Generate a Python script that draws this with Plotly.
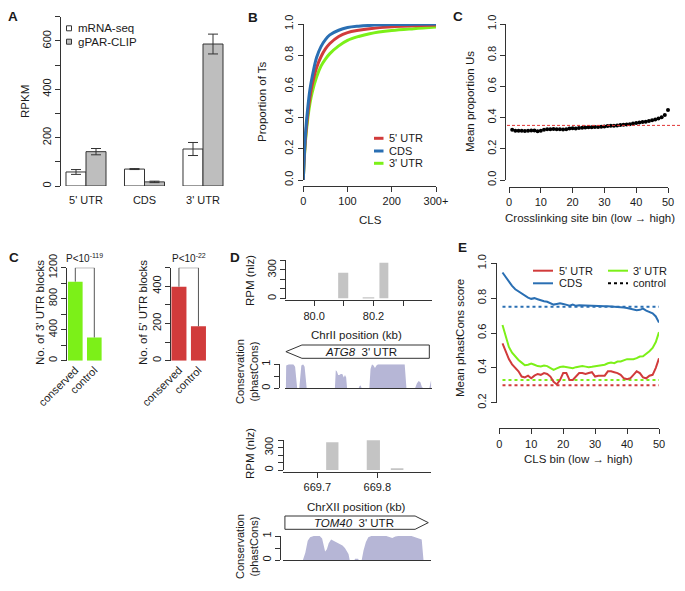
import plotly.graph_objects as go

W, H = 685, 591
FONT = "Liberation Sans, Arial, Helvetica, sans-serif"
AX = "#333333"
TXT = "#1a1a1a"
RED = "#D13B3B"
BLUE = "#2A6FB3"
GREEN = "#7CF018"
GRAYBAR = "#BEBEBE"
RPMBAR = "#C4C4C4"
LAV = "#B6B6D6"

# ---------------- data ----------------
# A
regions = ["5' UTR", "CDS", "3' UTR"]
mrna_rpkm = [58, 70, 153]
mrna_err = [10, 2, 27]
gpar_rpkm = [142, 17, 587]
gpar_err = [13, 3, 41]

# B
cls_x = [0, 2, 5, 10, 15, 20, 30, 40, 50, 60, 80, 100, 125, 150, 200, 250, 300]
cdf_cds = [0, 0.14, 0.30, 0.46, 0.58, 0.66, 0.785, 0.855, 0.90, 0.93, 0.96, 0.977, 0.986, 0.991, 0.996, 0.998, 1.0]
cdf_5utr = [0, 0.13, 0.27, 0.42, 0.53, 0.61, 0.72, 0.79, 0.84, 0.875, 0.92, 0.945, 0.96, 0.97, 0.982, 0.988, 0.993]
cdf_3utr = [0, 0.12, 0.25, 0.39, 0.49, 0.56, 0.66, 0.73, 0.775, 0.81, 0.86, 0.895, 0.92, 0.938, 0.958, 0.97, 0.98]
cls_ticks = [0, 100, 200, 300]
cls_ticktext = ["0", "100", "200", "300+"]

# C (top)
bins = list(range(1, 51))
prop_us = [0.322, 0.316, 0.315, 0.315, 0.314, 0.316, 0.318, 0.318, 0.312, 0.316,
           0.322, 0.325, 0.326, 0.327, 0.326, 0.326, 0.324, 0.326, 0.330, 0.331,
           0.330, 0.333, 0.335, 0.336, 0.338, 0.338, 0.340, 0.340, 0.341, 0.343,
           0.346, 0.347, 0.347, 0.350, 0.352, 0.354, 0.356, 0.358, 0.362, 0.366,
           0.368, 0.371, 0.374, 0.378, 0.383, 0.388, 0.394, 0.403, 0.417, 0.448]
us_reference = 0.35

# C (bottom)
block_groups = ["conserved", "control"]
utr3_blocks = [1020, 300]
utr5_blocks = [398, 185]
utr3_p = "P<10<sup>-119</sup>"
utr5_p = "P<10<sup>-22</sup>"

# D
atg8_pos = [80.098, 80.183, 80.235]
atg8_width = [0.034, 0.039, 0.030]
atg8_rpm = [270, 14, 375]
atg8_utr = (79.905, 80.388)
atg8_cons_pos = [79.905, 79.906, 79.915, 79.930, 79.936, 79.940, 79.943, 79.950, 79.953, 79.957,
                 79.963, 79.968, 79.972, 79.975, 80.070, 80.073, 80.077, 80.081, 80.085, 80.090,
                 80.095, 80.100, 80.104, 80.108, 80.111, 80.150, 80.153, 80.157, 80.160, 80.186,
                 80.190, 80.195, 80.200, 80.205, 80.210, 80.215, 80.305, 80.308, 80.311, 80.340,
                 80.346, 80.352, 80.358, 80.363, 80.368, 80.388, 80.392, 80.394]
atg8_cons = [0, 0.95, 1.0, 1.0, 0.9, 0.3, 0, 0, 0.6, 0.95,
             1.0, 0.9, 0.4, 0, 0, 0.75, 0.7, 0.55, 0.55, 0.6,
             0.6, 0.45, 0.55, 0.45, 0, 0, 0.1, 0.12, 0, 0,
             0.8, 1.0, 0.95, 0.85, 0.95, 1.0, 1.0, 0.3, 0, 0,
             0.2, 0.3, 0.25, 0.05, 0, 0, 0.3, 0.35]

tom40_pos = [669.725, 669.7934, 669.833]
tom40_width = [0.0205, 0.022, 0.021]
tom40_rpm = [375, 415, 25]
tom40_utr = (669.646, 669.885)
tom40_cons_pos = [669.676, 669.680, 669.684, 669.688, 669.694, 669.704, 669.708, 669.711, 669.713, 669.716,
                  669.719, 669.723, 669.727, 669.730, 669.735, 669.738, 669.742, 669.746, 669.750, 669.752,
                  669.754, 669.762, 669.763, 669.768, 669.769, 669.774, 669.777, 669.781, 669.785, 669.790,
                  669.815, 669.820, 669.825, 669.830, 669.835, 669.857, 669.863, 669.870, 669.874, 669.877]
tom40_cons = [0, 0.3, 0.8, 0.95, 1.0, 1.0, 0.9, 0.6, 0.35, 0.45,
              0.7, 0.85, 0.8, 0.75, 0.72, 0.68, 0.6, 0.5, 0.35, 0.25,
              0, 0, 0.05, 0.05, 0, 0, 0.4, 0.75, 0.95, 1.0,
              1.0, 0.95, 0.92, 0.98, 1.0, 1.0, 0.95, 0.9, 0.85, 0]

# E
phast_cds = [0.947, 0.92, 0.895, 0.87, 0.851, 0.838, 0.825, 0.815, 0.803, 0.796,
             0.80, 0.794, 0.786, 0.782, 0.779, 0.771, 0.763, 0.767, 0.771, 0.767,
             0.763, 0.757, 0.763, 0.756, 0.759, 0.758, 0.757, 0.756, 0.755, 0.753,
             0.754, 0.752, 0.753, 0.754, 0.753, 0.75, 0.749, 0.747, 0.746, 0.743,
             0.74, 0.736, 0.731, 0.733, 0.74, 0.728, 0.722, 0.713, 0.695, 0.66]
phast_3utr = [0.646, 0.58, 0.52, 0.487, 0.464, 0.445, 0.43, 0.415, 0.418, 0.425,
              0.418, 0.41, 0.408, 0.413, 0.41, 0.398, 0.388, 0.397, 0.405, 0.408,
              0.404, 0.398, 0.398, 0.404, 0.408, 0.41, 0.407, 0.404, 0.406, 0.408,
              0.413, 0.416, 0.418, 0.426, 0.43, 0.427, 0.436, 0.437, 0.442, 0.45,
              0.45, 0.45, 0.456, 0.465, 0.466, 0.48, 0.495, 0.514, 0.548, 0.605]
phast_5utr = [0.54, 0.49, 0.45, 0.42, 0.40, 0.38, 0.35, 0.345, 0.355, 0.34,
              0.355, 0.365, 0.36, 0.37, 0.365, 0.35, 0.32, 0.305, 0.33, 0.37,
              0.37, 0.33, 0.33, 0.35, 0.37, 0.37, 0.365, 0.37, 0.375, 0.35,
              0.355, 0.355, 0.355, 0.38, 0.38, 0.375, 0.37, 0.36, 0.34, 0.335,
              0.34, 0.36, 0.38, 0.37, 0.345, 0.34, 0.355, 0.36, 0.40, 0.455]
ctrl_cds = 0.75
ctrl_3utr = 0.33
ctrl_5utr = 0.30


# ---------------- helpers ----------------
def X(px):
    return px / W


def Y(py):
    return 1 - py / H


def base_axis(**kw):
    d = dict(showgrid=False, zeroline=False, showline=True, linecolor=AX, linewidth=1,
             ticks="outside", ticklen=5, tickwidth=1, tickcolor=AX,
             tickfont=dict(family=FONT, size=11, color=TXT), fixedrange=True, automargin=False)
    d.update(kw)
    return d


def minor(vals):
    return dict(tickvals=vals, ticks="outside", ticklen=5, tickwidth=1, tickcolor=AX, showgrid=False)


def xfree(left, right, rng, pos, **kw):
    return base_axis(domain=[X(left), X(right)], range=rng, anchor="free", position=Y(pos), **kw)


def yfree(bottom, top, rng, pos, **kw):
    return base_axis(domain=[Y(bottom), Y(top)], range=rng, anchor="free", position=X(pos),
                     tickangle=-90, **kw)


fig = go.Figure()

# ---------------- A ----------------
fig.add_trace(go.Bar(x=regions, y=mrna_rpkm, width=0.342, offset=-0.342,
                     marker=dict(color="white", line=dict(color=AX, width=1)),
                     error_y=dict(type="data", array=mrna_err, color=AX, thickness=1, width=5),
                     xaxis="x", yaxis="y", showlegend=False))
fig.add_trace(go.Bar(x=regions, y=gpar_rpkm, width=0.342, offset=0,
                     marker=dict(color=GRAYBAR, line=dict(color=AX, width=1)),
                     error_y=dict(type="data", array=gpar_err, color=AX, thickness=1, width=5),
                     xaxis="x", yaxis="y", showlegend=False))

# ---------------- B ----------------
for vals, col in [(cdf_3utr, GREEN), (cdf_5utr, RED), (cdf_cds, BLUE)]:
    fig.add_trace(go.Scatter(x=cls_x, y=vals, mode="lines", line=dict(color=col, width=3, shape="spline"),
                             xaxis="x2", yaxis="y2", showlegend=False, cliponaxis=False))

# ---------------- C top ----------------
fig.add_trace(go.Scatter(x=bins, y=prop_us, mode="markers", marker=dict(color="black", size=4),
                         xaxis="x3", yaxis="y3", showlegend=False, cliponaxis=False))

# ---------------- C bottom ----------------
fig.add_trace(go.Bar(x=block_groups, y=utr3_blocks, width=0.77, marker=dict(color=GREEN, line=dict(width=0)),
                     xaxis="x4", yaxis="y4", showlegend=False))
fig.add_trace(go.Scatter(x=[block_groups[0], block_groups[0], block_groups[1], block_groups[1]],
                         y=[utr3_blocks[0], 1200, 1200, utr3_blocks[1]], mode="lines",
                         line=dict(color="#555", width=1), xaxis="x4", yaxis="y4",
                         showlegend=False, cliponaxis=False))
fig.add_trace(go.Bar(x=block_groups, y=utr5_blocks, width=0.77, marker=dict(color=RED, line=dict(width=0)),
                     xaxis="x5", yaxis="y5", showlegend=False))
fig.add_trace(go.Scatter(x=[block_groups[0], block_groups[0], block_groups[1], block_groups[1]],
                         y=[utr5_blocks[0], 500, 500, utr5_blocks[1]], mode="lines",
                         line=dict(color="#555", width=1), xaxis="x5", yaxis="y5",
                         showlegend=False, cliponaxis=False))

# ---------------- D ----------------
fig.add_trace(go.Bar(x=atg8_pos, y=atg8_rpm, width=atg8_width, marker=dict(color=RPMBAR, line=dict(width=0)),
                     xaxis="x6", yaxis="y6", showlegend=False))
fig.add_trace(go.Scatter(x=atg8_cons_pos, y=atg8_cons, mode="lines", fill="tozeroy", fillcolor=LAV,
                         line=dict(width=0, color=LAV), xaxis="x7", yaxis="y7", showlegend=False))
fig.add_trace(go.Bar(x=tom40_pos, y=tom40_rpm, width=tom40_width, marker=dict(color=RPMBAR, line=dict(width=0)),
                     xaxis="x8", yaxis="y8", showlegend=False))
fig.add_trace(go.Scatter(x=tom40_cons_pos, y=tom40_cons, mode="lines", fill="tozeroy", fillcolor=LAV,
                         line=dict(width=0, color=LAV), xaxis="x9", yaxis="y9", showlegend=False))

# ---------------- E ----------------
for c, col in [(ctrl_cds, BLUE), (ctrl_3utr, GREEN), (ctrl_5utr, RED)]:
    fig.add_trace(go.Scatter(x=[bins[0], bins[-1]], y=[c, c], mode="lines",
                             line=dict(color=col, width=2, dash="dot"),
                             xaxis="x10", yaxis="y10", showlegend=False))
for vals, col in [(phast_cds, BLUE), (phast_3utr, GREEN), (phast_5utr, RED)]:
    fig.add_trace(go.Scatter(x=bins, y=vals, mode="lines", line=dict(color=col, width=2),
                             xaxis="x10", yaxis="y10", showlegend=False))

# ---------------- axes ----------------
lay = {}
# A
lay["xaxis"] = base_axis(domain=[X(56.75), X(232.25)], range=[-0.5, 2.5], anchor="y", showline=False,
                         ticks="", type="category", ticklabelstandoff=6)
lay["yaxis"] = yfree(186, 16.7, [0, 700], 60, tickvals=[0, 200, 400, 600],
                     minor=minor([100, 300, 500, 700]))
# B
lay["xaxis2"] = xfree(303.3, 436, [0, 300], 186, tickvals=cls_ticks, ticktext=cls_ticktext)
yb_vals = [0, 0.2, 0.4, 0.6, 0.8, 1.0]
lay["yaxis2"] = yfree(180, 24, [0, 1], 302.7, tickvals=yb_vals, ticktext=[f"{v:.1f}" for v in yb_vals])
# C top
lay["xaxis3"] = xfree(509, 668, [0, 50], 186.7, tickvals=[0, 10, 20, 30, 40, 50])
lay["yaxis3"] = yfree(180, 24, [0, 1], 505, tickvals=yb_vals, ticktext=[f"{v:.1f}" for v in yb_vals])
# C bottom
lay["xaxis4"] = base_axis(domain=[X(65.8), X(103.8)], range=[-0.5, 1.5], anchor="y4", showline=False,
                          ticks="", type="category", tickangle=-45)
lay["yaxis4"] = yfree(360.7, 267.7, [0, 1200], 66, tickvals=[0, 400, 800, 1200],
                      minor=minor([200, 600, 1000]))
lay["xaxis5"] = base_axis(domain=[X(169.2), X(208.2)], range=[-0.5, 1.5], anchor="y5", showline=False,
                          ticks="", type="category", tickangle=-45)
lay["yaxis5"] = yfree(360.7, 267.7, [0, 500], 170, tickvals=[0, 200, 400],
                      minor=minor([100, 300, 500]))
# D
atg8_range = [79.902, 80.396]
tom40_range = [669.6423, 669.889]
lay["xaxis6"] = xfree(285, 431.7, atg8_range, 300.3, tickvals=[80.0, 80.2], ticktext=["80.0", "80.2"],
                      minor=minor([80.1, 80.3]))
lay["yaxis6"] = yfree(298.5, 260.3, [0, 400], 285, tickvals=[0, 300], minor=minor([100, 200, 400]))
lay["xaxis7"] = base_axis(domain=[X(285), X(431.7)], range=atg8_range, anchor="y7", ticks="",
                          showticklabels=False)
lay["yaxis7"] = yfree(388.3, 364.3, [0, 1], 279.3, tickvals=[0, 1], minor=minor([0.5]))
lay["xaxis8"] = xfree(282.7, 430.7, tom40_range, 471.5, tickvals=[669.7, 669.8], ticktext=["669.7", "669.8"])
lay["yaxis8"] = yfree(470, 440.3, [0, 400], 282.7, tickvals=[0, 300], minor=minor([100, 200, 400]))
lay["xaxis9"] = base_axis(domain=[X(282.7), X(430.7)], range=tom40_range, anchor="y9", ticks="",
                          showticklabels=False)
lay["yaxis9"] = yfree(560, 536, [0, 1], 280, tickvals=[0, 1], minor=minor([0.5]))
# E
lay["xaxis10"] = xfree(499.3, 659, [0, 50], 428.3, tickvals=[0, 10, 20, 30, 40, 50])
ye_vals = [0.2, 0.4, 0.6, 0.8, 1.0]
lay["yaxis10"] = yfree(402.7, 263.3, [0.2, 1.0], 495.7, tickvals=ye_vals, ticktext=[f"{v:.1f}" for v in ye_vals])

# ---------------- annotations ----------------
anns = []


def ann(text, px, py, size=11.5, angle=0, bold=False, xanchor="center", yanchor="middle"):
    t = f"<b>{text}</b>" if bold else text
    anns.append(dict(text=t, x=X(px), y=Y(py), xref="paper", yref="paper", showarrow=False,
                     textangle=angle, xanchor=xanchor, yanchor=yanchor,
                     font=dict(family=FONT, size=size, color=TXT)))


# panel letters
for letter, px, py in [("A", 13, 16), ("B", 253, 17), ("C", 458, 16), ("C", 14, 257), ("D", 235, 257), ("E", 462, 247)]:
    ann(letter, px, py, size=13.5, bold=True)

# axis titles
ann("RPKM", 25, 101, angle=-90)
ann("Proportion of Ts", 262, 102, angle=-90)
ann("CLS", 370, 220)
ann("Mean proportion Us", 470, 102, angle=-90)
ann("Crosslinking site bin (low \u2192 high)", 590, 218)
ann("No. of 3' UTR blocks", 40, 313, angle=-90)
ann("No. of 5' UTR blocks", 143, 313, angle=-90)
ann("RPM (nlz)", 250, 281, angle=-90)
ann("ChrII position (kb)", 356, 335)
ann("Conservation<br>(phastCons)", 247, 372, angle=-90, size=11)
ann("RPM (nlz)", 250, 454, angle=-90)
ann("ChrXII position (kb)", 356, 507)
ann("Conservation<br>(phastCons)", 247, 547, angle=-90, size=11)
ann("Mean phastCons score", 460, 338, angle=-90)
ann("CLS bin (low \u2192 high)", 578, 459)

# P values
anns.append(dict(text=utr3_p, x=0.5, y=1200, xref="x4", yref="y4", showarrow=False, yanchor="bottom",
                 xanchor="center", yshift=2, font=dict(family=FONT, size=10, color=TXT)))
anns.append(dict(text=utr5_p, x=0.5, y=500, xref="x5", yref="y5", showarrow=False, yanchor="bottom",
                 xanchor="center", yshift=2, font=dict(family=FONT, size=10, color=TXT)))

# gene labels
anns.append(dict(text="<i>ATG8</i>  3' UTR", x=(atg8_utr[0] + atg8_utr[1]) / 2 + 0.01, y=Y(351.7),
                 xref="x7", yref="paper", showarrow=False, xanchor="center", yanchor="middle",
                 font=dict(family=FONT, size=11.5, color=TXT)))
anns.append(dict(text="<i>TOM40</i>  3' UTR", x=(tom40_utr[0] + tom40_utr[1]) / 2 - 0.005, y=Y(522.7),
                 xref="x9", yref="paper", showarrow=False, xanchor="center", yanchor="middle",
                 font=dict(family=FONT, size=11.5, color=TXT)))

# legends (text)
ann("mRNA-seq", 76, 28.3, xanchor="left")
ann("gPAR-CLIP", 76, 41.7, xanchor="left")
for t, py in [("5' UTR", 138.3), ("CDS", 151), ("3' UTR", 163.3)]:
    ann(t, 386.5, py, xanchor="left", size=11)
ann("5' UTR", 556.5, 270.7, xanchor="left", size=11)
ann("CDS", 556.5, 283.3, xanchor="left", size=11)
ann("3' UTR", 630.5, 270.7, xanchor="left", size=11)
ann("control", 630.5, 283.3, xanchor="left", size=11)

# ---------------- shapes ----------------
shapes = []
# legend A squares
shapes.append(dict(type="rect", xref="paper", yref="paper", x0=X(66.5), x1=X(71.5), y0=Y(30.8), y1=Y(25.8),
                   fillcolor="white", line=dict(color=AX, width=1)))
shapes.append(dict(type="rect", xref="paper", yref="paper", x0=X(66.5), x1=X(71.5), y0=Y(44.2), y1=Y(39.2),
                   fillcolor=GRAYBAR, line=dict(color=AX, width=1)))
# legend B lines
for col, py in [(RED, 138.3), (BLUE, 151), (GREEN, 163.3)]:
    shapes.append(dict(type="line", xref="paper", yref="paper", x0=X(374), x1=X(383.5), y0=Y(py), y1=Y(py),
                       line=dict(color=col, width=3)))
# legend E lines
for col, x0, py, dash in [(RED, 533, 270.7, "solid"), (BLUE, 533, 283.3, "solid"),
                          (GREEN, 608, 270.7, "solid"), ("black", 608, 283.3, "dot")]:
    shapes.append(dict(type="line", xref="paper", yref="paper", x0=X(x0), x1=X(x0 + 20), y0=Y(py), y1=Y(py),
                       line=dict(color=col, width=2, dash=dash)))
# reference line C top
shapes.append(dict(type="line", xref="paper", yref="y3", x0=X(507), x1=X(682), y0=us_reference, y1=us_reference,
                   line=dict(color="#E03535", width=1, dash="3px,2px")))


# gene boxes
def gene_box(xref, utr, head, top_py, bot_py, direction):
    yt, yb = Y(top_py), Y(bot_py)
    ym = (yt + yb) / 2
    a, b = utr
    if direction == "left":
        path = f"M {a},{ym} L {a + head},{yt} L {b},{yt} L {b},{yb} L {a + head},{yb} Z"
    else:
        path = f"M {b},{ym} L {b - head},{yt} L {a},{yt} L {a},{yb} L {b - head},{yb} Z"
    return dict(type="path", xref=xref, yref="paper", path=path, fillcolor="white",
                line=dict(color=AX, width=1))


shapes.append(gene_box("x7", atg8_utr, 0.054, 345, 358.3, "left"))
shapes.append(gene_box("x9", tom40_utr, 0.022, 516, 529.3, "right"))

fig.update_layout(
    width=W, height=H, margin=dict(l=0, r=0, t=0, b=0),
    paper_bgcolor="white", plot_bgcolor="rgba(0,0,0,0)",
    barmode="overlay", showlegend=False,
    font=dict(family=FONT, size=11, color=TXT),
    annotations=anns, shapes=shapes, **lay,
)

fig.write_html("out.html", config={"displayModeBar": False},
               post_script="document.body.style.margin='0';document.body.style.overflow='hidden';")
